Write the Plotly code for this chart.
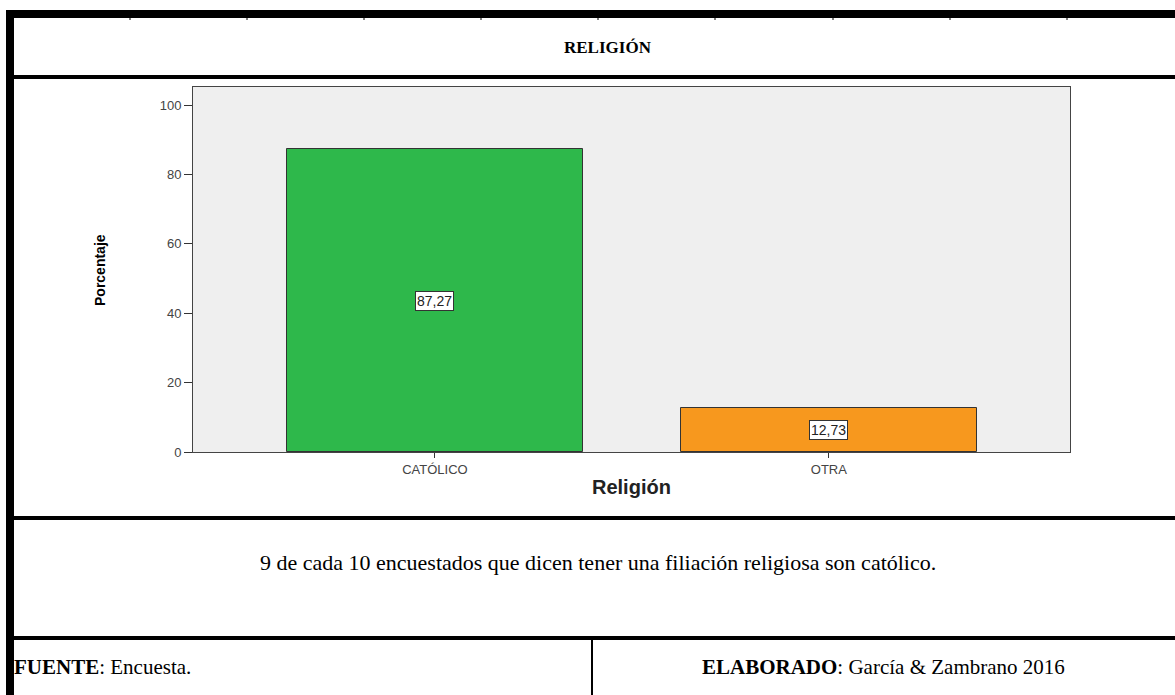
import plotly.graph_objects as go

categories = ["CATÓLICO", "OTRA"]
values = [87.27, 12.73]
value_labels = ["87,27", "12,73"]
bar_colors = ["#2eb84b", "#f7981e"]
y_ticks = [0, 20, 40, 60, 80, 100]

title_text = "<b>RELIGIÓN</b>"
caption_text = "9 de cada 10 encuestados que dicen tener una filiación religiosa son católico."
source_text = "<b>FUENTE</b>: Encuesta."
author_text = "<b>ELABORADO</b>: García & Zambrano 2016"

W, H = 1175, 695
PL, PR, PT, PB = 193, 1070, 87, 452  # plot area in pixels


def px(x):
    return (x - PL) / (PR - PL)


def py(y):
    return (PB - y) / (PB - PT)


fig = go.Figure()
fig.add_trace(go.Bar(
    x=[0, 1], y=values, width=0.75,
    marker=dict(color=bar_colors, line=dict(color="#333333", width=1)),
    hoverinfo="skip", showlegend=False,
))

# value label boxes at mid-height of bars
for i, (v, lab) in enumerate(zip(values, value_labels)):
    fig.add_annotation(x=i, y=v / 2, xref="x", yref="y", text=lab, showarrow=False,
                       font=dict(family="Liberation Sans, Arial", size=14, color="#222222"),
                       bgcolor="white", bordercolor="#333333", borderwidth=1, borderpad=1)

shapes = []
BLK = "black"
# outer frame: top and left thick borders
shapes.append(dict(type="line", xref="paper", yref="paper", x0=px(6), x1=px(1175), y0=py(14), y1=py(14),
                   line=dict(color=BLK, width=8)))
shapes.append(dict(type="line", xref="paper", yref="paper", x0=px(10), x1=px(10), y0=py(10), y1=py(695),
                   line=dict(color=BLK, width=8)))
# small ruler marks under top border
for tx in [130, 247, 364, 481, 598, 715, 833, 950, 1067]:
    shapes.append(dict(type="line", xref="paper", yref="paper", x0=px(tx), x1=px(tx), y0=py(17), y1=py(20),
                       line=dict(color=BLK, width=1)))
# horizontal separators
for yy in [77, 518, 638]:
    shapes.append(dict(type="line", xref="paper", yref="paper", x0=px(10), x1=px(1175), y0=py(yy), y1=py(yy),
                       line=dict(color=BLK, width=4)))
# footer divider
shapes.append(dict(type="line", xref="paper", yref="paper", x0=px(592), x1=px(592), y0=py(638), y1=py(695),
                   line=dict(color=BLK, width=2)))
fig.update_layout(shapes=shapes)

serif = "Liberation Serif, Times New Roman, serif"
fig.add_annotation(x=px(608), y=py(47), xref="paper", yref="paper", text=title_text, showarrow=False,
                   font=dict(family=serif, size=17, color="black"), xanchor="center", yanchor="middle")
fig.add_annotation(x=px(598), y=py(562), xref="paper", yref="paper", text=caption_text, showarrow=False,
                   font=dict(family=serif, size=22, color="black"), xanchor="center", yanchor="middle")
fig.add_annotation(x=px(12), y=py(667), xref="paper", yref="paper", text=source_text, showarrow=False,
                   font=dict(family=serif, size=21, color="black"), xanchor="left", yanchor="middle")
fig.add_annotation(x=px(883), y=py(667), xref="paper", yref="paper", text=author_text, showarrow=False,
                   font=dict(family=serif, size=21, color="black"), xanchor="center", yanchor="middle")
# axis titles
fig.add_annotation(x=px(100), y=py(270), xref="paper", yref="paper", text="<b>Porcentaje</b>", showarrow=False,
                   textangle=-90, font=dict(family="Liberation Sans Narrow, Arial Narrow, sans-serif", size=14,
                                            color="black"), xanchor="center", yanchor="middle")
fig.add_annotation(x=px(631), y=py(487), xref="paper", yref="paper", text="<b>Religión</b>", showarrow=False,
                   font=dict(family="Liberation Sans, Arial", size=20, color="#222222"),
                   xanchor="center", yanchor="middle")

tickfont = dict(family="Liberation Sans, Arial", size=13, color="#444444")
fig.update_xaxes(range=[-0.614, 1.612], tickvals=[0, 1], ticktext=categories, ticks="outside", ticklen=5,
                 tickcolor="#333333", showline=True, linecolor="#444444", linewidth=1, mirror=True,
                 showgrid=False, zeroline=False, tickfont=tickfont, fixedrange=True)
fig.update_yaxes(range=[0, 105.2], tickvals=y_ticks, ticks="outside", ticklen=8, tickcolor="#333333",
                 showline=True, linecolor="#444444", linewidth=1, mirror=True, showgrid=False,
                 zeroline=False, tickfont=tickfont, fixedrange=True)

fig.update_layout(
    width=W, height=H, autosize=False,
    margin=dict(l=PL, r=W - PR, t=PT, b=H - PB, pad=0),
    paper_bgcolor="white", plot_bgcolor="#efefef",
    showlegend=False, bargap=0,
)

fig.write_html("out.html", config={"displayModeBar": False},
               post_script="document.body.style.margin='0';")
